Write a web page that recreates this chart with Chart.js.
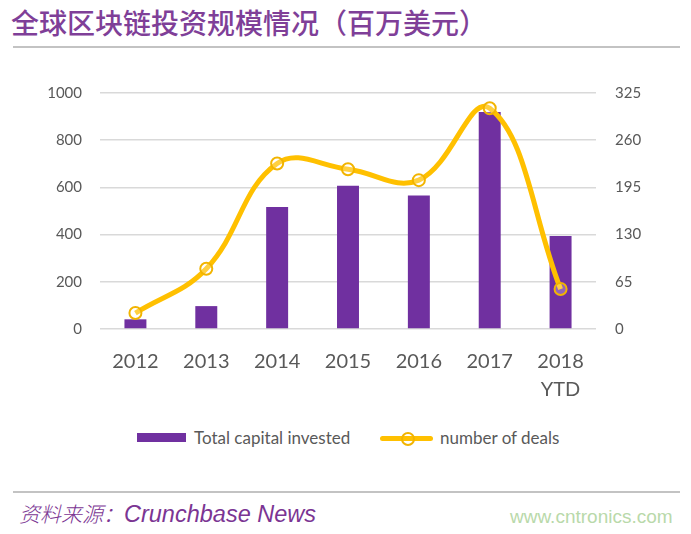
<!DOCTYPE html>
<html>
<head>
<meta charset="utf-8">
<script src="https://cdn.jsdelivr.net/npm/chart.js@4/dist/chart.umd.min.js"></script>
<style>
  body { margin: 0; width: 691px; height: 534px; background: #fff; position: relative; overflow: hidden; font-family: Lato, sans-serif; }
  .title { position: absolute; left: 11px; top: 3px; font-family: "Noto Sans CJK SC", sans-serif; font-size: 28px; font-weight: 500; line-height: 38px; color: #7f3f98; white-space: nowrap; }
  .rule { position: absolute; left: 13px; width: 667px; height: 2px; background: #c3c3c3; }
  #wrap { position: absolute; left: 0; top: 55px; width: 691px; height: 365px; }
  .legend { position: absolute; top: 428px; height: 20px; font-size: 17px; color: #595959; }
  .swatch { position: absolute; }
  .ltext { position: absolute; top: 0; line-height: 20px; white-space: nowrap; }
  .source { position: absolute; left: 19px; top: 498px; font-size: 23.5px; line-height: 30px; color: #7b3593; font-style: italic; white-space: nowrap; }
  .source .cn { font-family: "Noto Sans CJK SC", sans-serif; font-size: 21px; font-weight: 300; }
  .source .en { font-family: "Liberation Sans", sans-serif; }
  .mark { position: absolute; left: 510px; top: 505px; font-family: "Liberation Sans", sans-serif; font-size: 19px; line-height: 24px; color: #b9d9aa; }
</style>
</head>
<body>
<div class="title">全球区块链投资规模情况（百万美元）</div>
<div class="rule" style="top:46px"></div>

<div id="wrap"><canvas id="chart"></canvas></div>

<div class="legend" style="left:0; width:691px">
  <div class="swatch" style="left:137px; top:5px; width:49px; height:9px; background:#7030a0"></div>
  <div class="ltext" style="left:194px">Total capital invested</div>
  <div class="swatch" style="left:380px; top:8px; width:53px; height:5px; border-radius:3px; background:#ffc000"></div>
  <div class="swatch" style="left:401px; top:4px; width:10px; height:10px; border-radius:50%; border:2px solid #f2b400"></div>
  <div class="ltext" style="left:440px">number of deals</div>
</div>

<div class="rule" style="top:491px"></div>
<div class="source"><span class="cn">资料来源：</span><span class="en">Crunchbase News</span></div>
<div class="mark">www.cntronics.com</div>

<script>
const years = ["2012", "2013", "2014", "2015", "2016", "2017", ["2018", "YTD"]];
const capital = [41, 97, 517, 607, 566, 919, 394];
const deals = [22, 83, 228, 220, 205, 304, 55];
const capitalTicks = [0, 200, 400, 600, 800, 1000];
const dealTicks = [0, 65, 130, 195, 260, 325];

const tickColor = "#595959";

new Chart(document.getElementById("chart"), {
  data: {
    labels: years,
    datasets: [
      {
        type: "line",
        label: "number of deals",
        data: deals,
        yAxisID: "y2",
        order: 0,
        borderColor: "#ffc000",
        borderWidth: 5,
        tension: 0.4,
        pointRadius: 6,
        pointBorderWidth: 2,
        pointBorderColor: "#f2b400",
        pointBackgroundColor: "rgba(255,255,255,0.25)",
      },
      {
        type: "bar",
        label: "Total capital invested",
        data: capital,
        yAxisID: "y",
        order: 1,
        backgroundColor: "#7030a0",
        barPercentage: 0.31,
        categoryPercentage: 1,
      },
    ],
  },
  options: {
    responsive: true,
    maintainAspectRatio: false,
    animation: false,
    layout: { padding: { top: 38, left: 0, right: 0, bottom: 0 } },
    plugins: { legend: { display: false }, tooltip: { enabled: false } },
    scales: {
      x: {
        grid: { display: false },
        border: { display: false },
        ticks: {
          color: tickColor,
          font: { family: "Lato", size: 20, lineHeight: 1.4 },
          padding: 11,
          maxRotation: 0,
          autoSkip: false,
        },
        afterFit: (scale) => { scale.height = 91; },
      },
      y: {
        position: "left",
        min: capitalTicks[0],
        max: capitalTicks[capitalTicks.length - 1],
        afterBuildTicks: (scale) => { scale.ticks = capitalTicks.map((v) => ({ value: v })); },
        grid: { color: "#d9d9d9", lineWidth: 1.5, drawTicks: false },
        border: { display: false },
        ticks: { color: tickColor, font: { family: "Lato", size: 15 }, padding: 18, callback: (v) => String(v) },
        afterFit: (scale) => { scale.width = 100; },
      },
      y2: {
        position: "right",
        min: dealTicks[0],
        max: dealTicks[dealTicks.length - 1],
        afterBuildTicks: (scale) => { scale.ticks = dealTicks.map((v) => ({ value: v })); },
        grid: { display: false, drawTicks: false },
        border: { display: false },
        ticks: { color: tickColor, font: { family: "Lato", size: 15 }, padding: 19, callback: (v) => String(v) },
        afterFit: (scale) => { scale.width = 95; },
      },
    },
  },
});
</script>
</body>
</html>
